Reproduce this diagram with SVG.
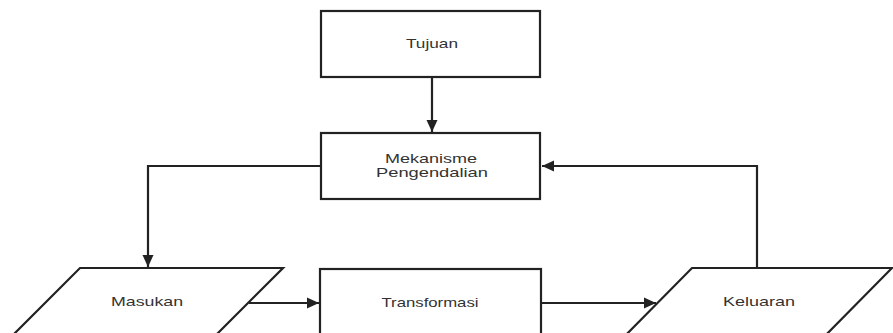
<svg xmlns="http://www.w3.org/2000/svg" width="893" height="333" viewBox="0 0 893 333">
<style>
.box{fill:#fff;stroke:#222;stroke-width:2.2}
.lbl{font-family:"Liberation Sans",Arial,sans-serif;font-size:13px;fill:#333;text-anchor:middle}
.con{fill:none;stroke:#222;stroke-width:2.2}
</style>
<defs>
<marker id="ah" markerUnits="userSpaceOnUse" markerWidth="12" markerHeight="12" viewBox="0 0 12 12" refX="12" refY="6" orient="auto">
<path d="M0,0.5 L12,6 L0,11.5 z" fill="#222"/>
</marker>
</defs>
<rect width="893" height="333" fill="#fff"/>
<g id="tujuan">
<rect class="box" x="321" y="11" width="219" height="66"/>
<text class="lbl" x="432" y="48" textLength="52" lengthAdjust="spacingAndGlyphs">Tujuan</text>
</g>
<g id="mekanisme">
<rect class="box" x="321" y="133" width="219" height="66"/>
<text class="lbl" x="431" y="163" font-size="12.5" textLength="92" lengthAdjust="spacingAndGlyphs">Mekanisme</text>
<text class="lbl" x="432" y="177" font-size="12.5" textLength="112" lengthAdjust="spacingAndGlyphs">Pengendalian</text>
</g>
<g id="masukan">
<polygon class="box" points="80,268 283,268 205,346 2,346"/>
<text class="lbl" x="147" y="306" textLength="72" lengthAdjust="spacingAndGlyphs">Masukan</text>
</g>
<g id="transformasi">
<rect class="box" x="320" y="269" width="221" height="80"/>
<text class="lbl" x="430" y="306.5" textLength="97" lengthAdjust="spacingAndGlyphs">Transformasi</text>
</g>
<g id="keluaran">
<polygon class="box" points="692,268 892,268 815,346 615,346"/>
<text class="lbl" x="759" y="306" textLength="72" lengthAdjust="spacingAndGlyphs">Keluaran</text>
</g>
<g id="connectors">
<path class="con" d="M432,77 V132" marker-end="url(#ah)"/>
<path class="con" d="M321,166 H148 V267" marker-end="url(#ah)"/>
<path class="con" d="M249,303 H319" marker-end="url(#ah)"/>
<path class="con" d="M541,303 H656" marker-end="url(#ah)"/>
<path class="con" d="M757,268 V166 H542" marker-end="url(#ah)"/>
</g>
</svg>
